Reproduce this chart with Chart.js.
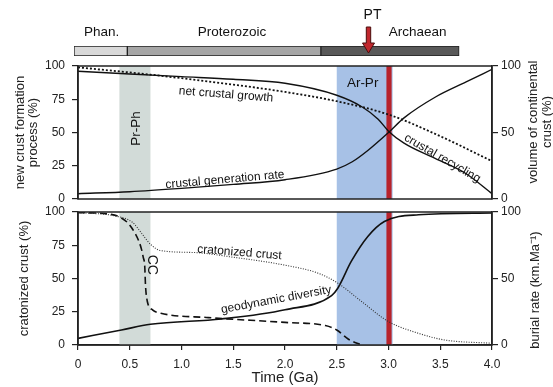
<!DOCTYPE html>
<html>
<head>
<meta charset="utf-8">
<script src="https://cdn.jsdelivr.net/npm/chart.js@4.4.1/dist/chart.umd.min.js"></script>
<style>
body { margin: 0; background: #fff; }
#wrap { position: relative; width: 553px; height: 387px; }
canvas { position: absolute; left: 0; }
</style>
</head>
<body>
<div id="wrap">
  <canvas id="eras" width="553" height="60" style="top:0"></canvas>
  <canvas id="lower" width="553" height="189" style="top:198px"></canvas>
  <canvas id="upper" width="553" height="161" style="top:52px"></canvas>
</div>
<script>
Chart.defaults.font.family = '"Liberation Sans", Arial, sans-serif';
Chart.defaults.color = '#222';

// eras (Ga)
const eraNames = ['Phan.', 'Proterozoic', 'Archaean'];
const eraFrom = [0, 0.54, 2.5];
const eraTo = [0.54, 2.5, 3.9];
const eraLabelAt = [0.28, 1.6, 3.48];
const ptAge = 3.0;

// shaded time windows (Ga)
const prPhBand = [0.4, 0.7];
const arPrBand = [2.5, 3.04];
const ptBand = [2.98, 3.03];

// upper panel
const recyclingT = [0, 0.5, 1.0, 1.5, 2.0, 2.5, 2.75, 2.9, 3.0, 3.15, 3.45, 3.75, 4.0];
const recyclingV = [96, 94, 92, 90, 87, 78, 69, 60, 51, 42, 30.5, 19, 4];
const generationT = [0, 0.5, 1.0, 1.5, 2.0, 2.5, 2.65, 2.8, 3.0, 3.15, 3.45, 3.75, 4.0];
const generationV = [4, 5.5, 8, 11, 14.5, 22.5, 28, 36.5, 50, 61, 76.5, 88, 97.5];
const netGrowthT = [0, 0.7, 1.5, 2.0, 2.5, 3.0, 3.45, 4.0];
const netGrowthV = [99, 93.5, 86, 80.5, 73.5, 63.5, 49, 28.5];

// lower panel
const cratonT = [0, 0.36, 0.53, 0.61, 0.7, 0.8, 1.13, 1.5, 2.0, 2.32, 2.51, 2.74, 3.0, 3.29, 3.54, 4.0];
const cratonV = [99.5, 97, 92, 84.5, 75.7, 71, 69.5, 66, 60, 54, 46.5, 32.7, 17.6, 8.8, 3.8, 1.3];
const ccT = [0, 0.29, 0.42, 0.52, 0.61, 0.63, 0.645, 0.652, 0.67, 0.72, 0.8, 1.26, 2.0, 2.39, 2.5, 2.61, 2.74];
const ccV = [99.5, 98.5, 95.5, 88, 73, 66, 59, 45, 32.7, 26.4, 23.9, 20.6, 17, 14.6, 11.3, 4.5, 0];
const geoT = [0, 0.42, 0.7, 1.385, 2.0, 2.45, 2.51, 2.64, 2.8, 2.96, 3.29, 4.0];
const geoV = [5, 11.3, 15.6, 19.6, 26.5, 37.2, 42.7, 62.8, 81.6, 92.9, 97.9, 99.2];

const leftTicks = [0, 25, 50, 75, 100];
const rightTicks = [0, 50, 100];

const pts = (t, v) => t.map((x, i) => ({x: x, y: v[i]}));

function line(t, v, width, dash, color) {
    return {
        data: pts(t, v),
        borderColor: color || '#111',
        borderWidth: width,
        borderDash: dash || [],
        pointRadius: 0,
        cubicInterpolationMode: 'monotone',
        fill: false
    };
}

function yAxis(position, values, width, title) {
    return {
        position: position,
        min: 0, max: 100,
        afterFit: s => { s.width = width; },
        afterBuildTicks: s => { s.ticks = values.map(v => ({value: v})); },
        ticks: { font: {size: 12, lineHeight: '14px'}, padding: position === 'left' ? 7 : 3, color: '#222' },
        grid: { drawOnChartArea: false, drawTicks: true, tickLength: 6, color: '#222', lineWidth: 1.2 },
        border: { display: true, color: '#222', width: 1.5 },
        title: title || { display: false }
    };
}

// bands, frame and in-plot labels
function panelPlugin(labels, sideTitle) {
    return {
        id: 'panel',
        beforeDatasetsDraw(chart) {
            const {ctx, chartArea: a, scales: {x}} = chart;
            const band = (r, color) => {
                const x1 = x.getPixelForValue(r[0]);
                const x2 = x.getPixelForValue(r[1]);
                ctx.fillStyle = color;
                ctx.fillRect(x1, a.top, x2 - x1, a.bottom - a.top);
            };
            band(prPhBand, '#d2dbd8');
            band(arPrBand, '#a7c1e6');
            band(ptBand, '#b8232c');
        },
        afterDatasetsDraw(chart) {
            const {ctx, chartArea: a, scales: {x, y}} = chart;
            ctx.save();
            ctx.strokeStyle = '#222';
            ctx.lineWidth = 1.5;
            ctx.strokeRect(a.left, a.top, a.right - a.left, a.bottom - a.top);
            ctx.fillStyle = '#111';
            ctx.textAlign = 'center';
            ctx.textBaseline = 'middle';
            labels.forEach(l => {
                ctx.save();
                ctx.translate(x.getPixelForValue(l.t), y.getPixelForValue(l.v));
                ctx.rotate(l.angle * Math.PI / 180);
                ctx.font = (l.size || 12) + 'px "Liberation Sans", Arial, sans-serif';
                ctx.fillText(l.text, 0, 0);
                ctx.restore();
            });
            // right-hand axis title, read bottom to top
            ctx.fillStyle = '#222';
            ctx.font = '13px "Liberation Sans", Arial, sans-serif';
            sideTitle.lines.forEach((txt, i) => {
                ctx.save();
                ctx.translate(sideTitle.x[i], sideTitle.y);
                ctx.rotate(-Math.PI / 2);
                ctx.fillText(txt, 0, 0);
                ctx.restore();
            });
            ctx.restore();
        }
    };
}

// era bar
new Chart(document.getElementById('eras'), {
    type: 'bar',
    data: {
        labels: ['era'],
        datasets: eraNames.map((name, i) => ({
            label: name,
            data: [[eraFrom[i], eraTo[i]]],
            backgroundColor: ['#d9d9d9', '#a6a6a6', '#595959'][i],
            borderColor: '#222',
            borderWidth: 1,
            borderSkipped: false,
            grouped: false,
            barPercentage: 1,
            categoryPercentage: 1
        }))
    },
    options: {
        responsive: false,
        animation: false,
        indexAxis: 'y',
        layout: { padding: {left: 74, right: 84, top: 46, bottom: 4} },
        plugins: { legend: {display: false}, tooltip: {enabled: false} },
        scales: {
            x: { display: false, min: 0, max: 4 },
            y: { display: false }
        }
    },
    plugins: [{
        id: 'eraText',
        afterDraw(chart) {
            const {ctx, scales: {x}} = chart;
            ctx.save();
            ctx.fillStyle = '#111';
            ctx.textAlign = 'center';
            ctx.textBaseline = 'middle';
            ctx.font = '13.5px "Liberation Sans", Arial, sans-serif';
            eraNames.forEach((n, i) => ctx.fillText(n, x.getPixelForValue(eraLabelAt[i]), 32));
            const px = Math.round(x.getPixelForValue(ptAge - 0.02)) + 0.5;
            ctx.font = '14px "Liberation Sans", Arial, sans-serif';
            ctx.fillText('PT', px + 4, 15);
            // arrow
            ctx.beginPath();
            ctx.moveTo(px - 2.2, 27);
            ctx.lineTo(px + 2.2, 27);
            ctx.lineTo(px + 2.2, 43);
            ctx.lineTo(px + 6, 43);
            ctx.lineTo(px, 53);
            ctx.lineTo(px - 6, 43);
            ctx.lineTo(px - 2.2, 43);
            ctx.closePath();
            ctx.fillStyle = '#c0272d';
            ctx.fill();
            ctx.strokeStyle = '#4a0d0d';
            ctx.lineWidth = 1;
            ctx.stroke();
            ctx.restore();
        }
    }]
});

// upper panel
new Chart(document.getElementById('upper'), {
    type: 'line',
    data: {
        datasets: [
            line(netGrowthT, netGrowthV, 1.8, [2, 2]),
            line(recyclingT, recyclingV, 1.4),
            line(generationT, generationV, 1.4)
        ]
    },
    options: {
        responsive: false,
        animation: false,
        layout: { padding: 0 },
        plugins: { legend: {display: false}, tooltip: {enabled: false} },
        scales: {
            x: { type: 'linear', min: 0, max: 4, display: false },
            y: yAxis('left', leftTicks, 78, {
                display: true,
                text: ['new crust formation', 'process (%)'],
                font: {size: 13, lineHeight: 1},
                padding: {top: 13.5, bottom: 0},
                color: '#222'
            }),
            y2: yAxis('right', rightTicks, 61)
        }
    },
    plugins: [panelPlugin([
        {text: 'net crustal growth', t: 1.43, v: 78.5, angle: 4.5},
        {text: 'crustal generation rate', t: 1.42, v: 14.5, angle: -5},
        {text: 'crustal recycling', t: 3.52, v: 30.6, angle: 30},
        {text: 'Pr-Ph', t: 0.56, v: 53, angle: -90, size: 13.5},
        {text: 'Ar-Pr', t: 2.75, v: 86.8, angle: 0, size: 13.5}
    ], {lines: ['volume of continental', 'crust (%)'], x: [533, 547], y: 70})]
});

// lower panel
new Chart(document.getElementById('lower'), {
    type: 'line',
    data: {
        datasets: [
            line(cratonT, cratonV, 1.1, [1, 1.5], '#333'),
            line(ccT, ccV, 1.6, [7, 4]),
            line(geoT, geoV, 1.6)
        ]
    },
    options: {
        responsive: false,
        animation: false,
        layout: { padding: 0 },
        plugins: { legend: {display: false}, tooltip: {enabled: false} },
        scales: {
            x: {
                type: 'linear', min: 0, max: 4,
                afterFit: s => { s.height = 42; },
                ticks: {
                    stepSize: 0.5, font: {size: 12}, padding: 7, color: '#222', maxRotation: 0,
                    callback: v => v === 0 ? '0' : v.toFixed(1)
                },
                grid: { drawOnChartArea: false, drawTicks: true, tickLength: 5, color: '#222', lineWidth: 1.2 },
                border: { display: true, color: '#222', width: 1.5 },
                title: { display: true, text: 'Time (Ga)', font: {size: 15, lineHeight: 1}, padding: {top: 0, bottom: 2}, color: '#222' }
            },
            y: yAxis('left', leftTicks, 78, {
                display: true,
                text: 'cratonized crust (%)',
                font: {size: 13, lineHeight: 1},
                padding: {top: 17.5, bottom: 0},
                color: '#222'
            }),
            y2: yAxis('right', rightTicks, 61)
        }
    },
    plugins: [panelPlugin([
        {text: 'cratonized crust', t: 1.56, v: 69.5, angle: 4.5},
        {text: 'geodynamic diversity', t: 1.915, v: 34, angle: -10.5},
        {text: 'CC', t: 0.717, v: 60.3, angle: 90, size: 14}
    ], {lines: ['burial rate (km.Ma⁻¹)'], x: [535], y: 92})]
});
</script>
</body>
</html>
